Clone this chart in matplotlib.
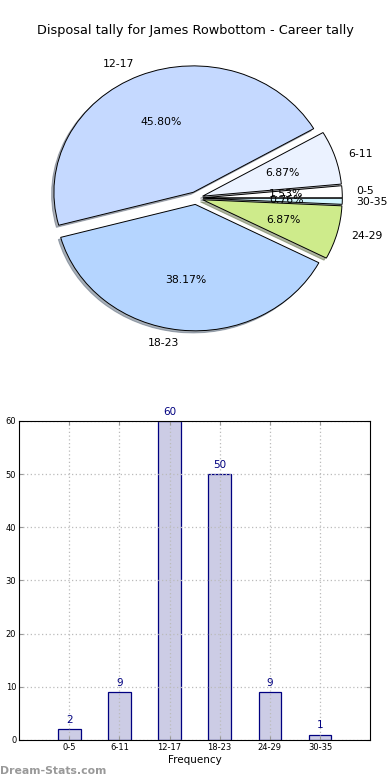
import matplotlib.pyplot as plt
import numpy as np

categories = ['0-5', '6-11', '12-17', '18-23', '24-29', '30-35']
counts = [2, 9, 60, 50, 9, 1]
pie_colors = ['#FFFFFF', '#EBF2FF', '#C5D9FF', '#B5D5FF', '#CEEB8B', '#D2F5FF']

fig = plt.figure(figsize=(3.9, 7.8), dpi=100)

# pie chart (old style: stretched, not circular)
ax1 = fig.add_axes([0.054, 0.541, 0.897, 0.410])
wedges, texts, autotexts = ax1.pie(counts, labels=categories, colors=pie_colors,
                                   explode=[0.05] * len(counts),
                                   shadow={'ox': -0.012, 'oy': -0.012, 'shade': 0.55},
                                   autopct='%1.2f%%', startangle=0,
                                   wedgeprops={'edgecolor': 'black', 'linewidth': 0.7},
                                   textprops={'fontsize': 7.8})
ax1.set_aspect('auto')
ax1.set_xlim(-1.255, 1.255)
ax1.set_ylim(-1.265, 1.265)
fig.text(0.5, 0.961, 'Disposal tally for James Rowbottom - Career tally',
         ha='center', va='center', fontsize=9.3)

# bar chart
ax2 = fig.add_axes([0.049, 0.0513, 0.9, 0.409])
x = np.arange(len(categories))
bars = ax2.bar(x, counts, width=0.45, color='#CCCCE5', edgecolor='#000080', linewidth=0.9)
for xi, c in zip(x, counts):
    ax2.text(xi, c + 0.8, str(c), ha='center', va='bottom', color='#000080', fontsize=7.5)
ax2.set_xlim(-1, 6)
ax2.set_ylim(0, 60)
ax2.set_yticks(range(0, 61, 10))
ax2.set_xticks(x)
ax2.set_xticklabels(categories)
ax2.tick_params(labelsize=6, direction='in', top=True, right=True, length=3, pad=2,
                color='#999999')
ax2.grid(True, linestyle=(0, (1, 2)), color='#BBBBBB', linewidth=0.9)
ax2.set_xlabel('Frequency', fontsize=7.5, labelpad=2)

fig.text(0.0, 0.005, 'Dream-Stats.com', color='#999999', fontsize=7.8,
         fontweight='bold', ha='left', va='bottom')

fig.savefig('out.png', dpi=100)
